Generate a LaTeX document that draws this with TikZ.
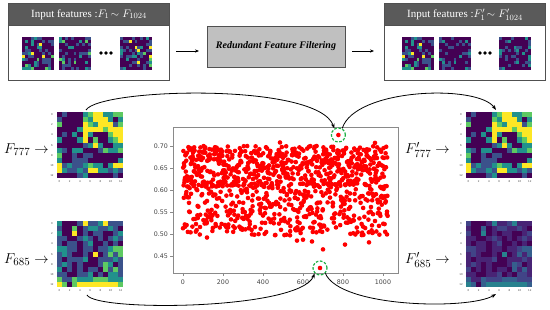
\documentclass[tikz,border=0pt]{standalone}
\usepackage{fontspec}
\setmainfont{Liberation Serif}
\setsansfont{DejaVu Sans}
\usetikzlibrary{arrows.meta}
\definecolor{v0}{HTML}{440154}
\definecolor{v1}{HTML}{3B528B}
\definecolor{v2}{HTML}{21918C}
\definecolor{v3}{HTML}{5EC962}
\definecolor{v4}{HTML}{FDE725}
\definecolor{d0}{HTML}{440154}
\definecolor{d1}{HTML}{482475}
\definecolor{d2}{HTML}{414487}
\definecolor{d3}{HTML}{355F8D}
\definecolor{d4}{HTML}{28818E}
\definecolor{hdrgray}{HTML}{5A5A5A}
\definecolor{boxgray}{HTML}{505050}
\definecolor{filtgray}{HTML}{C0C0C0}
\definecolor{axgray}{HTML}{8A8A8A}
\definecolor{ticktext}{HTML}{444444}
\definecolor{ptred}{HTML}{FF0000}
\definecolor{hlgreen}{HTML}{1DB043}
\def\dA{{0,1,0,0,0,2,3,4,4,2,2,3,3},{1,0,0,0,0,3,2,4,4,4,2,0,2},{3,0,0,0,0,4,3,2,4,4,4,1,3},{0,0,0,0,2,4,4,4,4,3,4,4,4},{0,1,0,2,0,4,2,0,0,0,3,4,4},{2,0,0,0,2,4,0,3,0,0,2,3,4},{0,0,0,0,0,1,2,4,2,0,0,2,2},{2,1,0,2,2,0,0,0,1,3,2,2,3},{3,0,0,1,0,1,1,0,0,0,0,0,0},{2,0,0,1,1,1,0,0,0,0,0,0,2},{4,1,2,1,1,2,3,2,2,0,2,4,4},{4,2,1,1,2,1,4,4,2,2,1,2,1},{0,0,0,0,1,2,0,0,0,0,0,1,0}}
\def\dB{{2,0,0,0,1,4,1,1,2,4,1,1,1},{1,0,0,3,0,1,2,2,1,1,2,1,0},{2,0,0,4,0,1,0,1,1,0,0,1,2},{1,1,0,0,1,2,1,0,1,0,1,2,1},{1,0,1,1,0,1,2,0,0,1,0,1,0},{2,2,1,1,0,1,1,0,1,1,2,3,3},{1,2,1,0,0,1,0,4,0,1,3,1,3},{1,0,1,1,1,2,0,0,1,1,1,2,1},{1,2,1,0,1,0,0,0,1,3,2,0,1},{2,0,1,0,1,0,1,1,0,3,1,3,1},{1,1,0,0,1,1,2,0,1,0,2,2,1},{3,1,1,3,2,2,2,3,3,3,2,2,2},{4,3,0,3,4,4,4,4,4,4,4,4,3}}
% heat map: x, y, palette prefix, data
\newcommand\heatmap[4]{%
  \begin{scope}[shift={(#1,#2)}]
    \foreach \row [count=\r from 0] in #4 {
      \foreach \v [count=\c from 0] in \row {
        \fill[#3\v] ({\c*5.1},{\r*5.1}) rectangle ++(5.15,5.15);
      }
    }
    \foreach \k in {0,2,...,12} {
      \node[tick] at ({\k*5.1+2.55},70) {\k};
      \node[tick] at (-5,{\k*5.1+2.55}) {\k};
    }
  \end{scope}}
% small feature map: x, y, seed, thresholds
\newcommand\fmap[7]{%
  \pgfmathsetseed{#3}
  \begin{scope}[shift={(#1,#2)}]
    \foreach \j in {0,...,10}{\foreach \i in {0,...,10}{
      \pgfmathrandominteger{\rv}{0}{99}
      \ifnum\rv<#4 \def\cc{v0}\else\ifnum\rv<#5 \def\cc{v1}\else\ifnum\rv<#6 \def\cc{v2}\else\ifnum\rv<#7 \def\cc{v3}\else\def\cc{v4}\fi\fi\fi\fi
      \fill[\cc] ({\i*2.91},{\j*3}) rectangle ++(2.95,3.05);
    }}
  \end{scope}}
\begin{document}
\begin{tikzpicture}[x=1pt,y=-1pt,
  outerbox/.style={draw=boxgray, line width=0.9pt, fill=white, minimum width=161pt, minimum height=77pt, anchor=north west, inner sep=0pt},
  hdr/.style={draw=boxgray, line width=0.9pt, fill=hdrgray, text=white, minimum width=161pt, minimum height=22pt, anchor=north west, inner sep=0pt, font=\fontsize{11}{12}\selectfont},
  filt/.style={draw=boxgray, line width=0.9pt, fill=filtgray, minimum width=138pt, minimum height=41pt, inner sep=0pt, font=\fontsize{10}{12}\selectfont\bfseries\itshape},
  flow/.style={-{Stealth[length=4pt,width=3.2pt]}, line width=0.7pt},
  conn/.style={-{Stealth[length=5pt,width=3.6pt]}, line width=0.8pt},
  tick/.style={font=\sffamily\fontsize{2.6}{3}\selectfont, text=ticktext, inner sep=0pt},
  atick/.style={font=\sffamily\fontsize{6.3}{7}\selectfont, text=ticktext, inner sep=0pt},
  flab/.style={font=\fontsize{15}{17}\selectfont, inner sep=0pt, anchor=west},
  hl/.style={circle, draw=hlgreen, dashed, dash pattern=on 2.6pt off 1.6pt, line width=1.2pt, minimum size=14pt, inner sep=0pt}]
\useasboundingbox[fill=white] (0,0) rectangle (550,310);
% top row
\node[outerbox] (boxL) at (8,3) {};
\node[hdr] (hdrL) at (8,3) {Input features :$F_1\!\sim F_{1024}$};
\fmap{22}{37}{11}{60}{80}{91}{97}
\fmap{59}{37}{23}{62}{82}{93}{98}
\fmap{120}{37}{37}{62}{81}{92}{97}
\foreach \dx in {-5,0,5}{\fill (106+\dx,53) circle (1.9);}
\node[filt] (filt) at (276,46.5) {Redundant Feature Filtering};
\node[outerbox] (boxR) at (384,3) {};
\node[hdr] (hdrR) at (384,3) {Input features :$F'_1\!\sim F'_{1024}$};
\fmap{402}{37}{11}{60}{80}{91}{97}
\fmap{439}{37}{23}{68}{88}{98}{100}
\fmap{499}{37}{37}{70}{90}{99}{100}
\foreach \dx in {-5,0,5}{\fill (485+\dx,53) circle (1.9);}
\coordinate (a1) at (176,51); \coordinate (a2) at (199,51);
\coordinate (a3) at (352,51); \coordinate (a4) at (374,51);
\draw[flow] (a1) -- (a2);
\draw[flow] (a3) -- (a4);
% heat maps
\heatmap{57}{112}{v}{\dA}
\heatmap{57}{221}{v}{\dB}
\heatmap{466}{112}{v}{\dA}
\heatmap{466}{221}{d}{\dB}
\node[flab] (lA) at (4,150) {$F_{777}\rightarrow$};
\node[flab] (lB) at (4,260) {$F_{685}\rightarrow$};
\node[flab] (lC) at (405,150) {$F'_{777}\rightarrow$};
\node[flab] (lD) at (405,260) {$F'_{685}\rightarrow$};
% scatter
\node[draw=axgray, line width=0.7pt, minimum width=225pt, minimum height=146pt, anchor=north west, inner sep=0pt] (ax) at (173,127) {};
\foreach \k in {0,200,...,1000}{
  \draw[axgray, line width=0.6pt] ({183+0.2*\k},273) -- ++(0,3);
  \node[atick] at ({183+0.2*\k},282) {\k};
}
\foreach \v/\t in {0.45/0.45,0.50/0.50,0.55/0.55,0.60/0.60,0.65/0.65,0.70/0.70}{
  \draw[axgray, line width=0.6pt] (173,{146-(\v-0.70)*440}) -- ++(-3,0);
  \node[atick, anchor=east] at (168,{146-(\v-0.70)*440}) {\t};
}
\pgfmathsetseed{7}
\foreach \i in {0,...,1023}{
  \pgfmathsetmacro\u{rnd}
  \pgfmathsetmacro\w{rnd}
  \pgfmathsetmacro\yy{\u<0.55 ? 0.607+0.093*\w : 0.497+0.118*\w}
  \fill[ptred] ({183+0.2*\i},{146-(\yy-0.70)*440}) circle (2.3);
}
\foreach \xx/\yv in {570/0.485,600/0.487,645/0.483,700/0.465,810/0.476,930/0.481,485/0.708,960/0.707,1020/0.499,120/0.492}{
  \fill[ptred] ({183+0.2*\xx},{146-(\yv-0.70)*440}) circle (2.3);
}
\fill[ptred] (338.4,135) circle (2.3);
\fill[ptred] (320,268) circle (2.3);
\node[hl] (h1) at (338.4,135) {};
\node[hl] (h2) at (320,268) {};
% connectors
\coordinate (tA) at (86,110);
\coordinate (tB) at (496,110);
\coordinate (bA) at (87,295);
\coordinate (bB) at (496,294);
\draw[conn] (tA) .. controls (100,88) and (318,82) .. (h1.122);
\draw[conn] (h1.60) .. controls (355,88) and (478,84) .. (tB);
\draw[conn] (bA) .. controls (96,312) and (300,310) .. (h2.225);
\draw[conn] (h2.315) .. controls (340,308) and (470,310) .. (bB);
\end{tikzpicture}
\end{document}
